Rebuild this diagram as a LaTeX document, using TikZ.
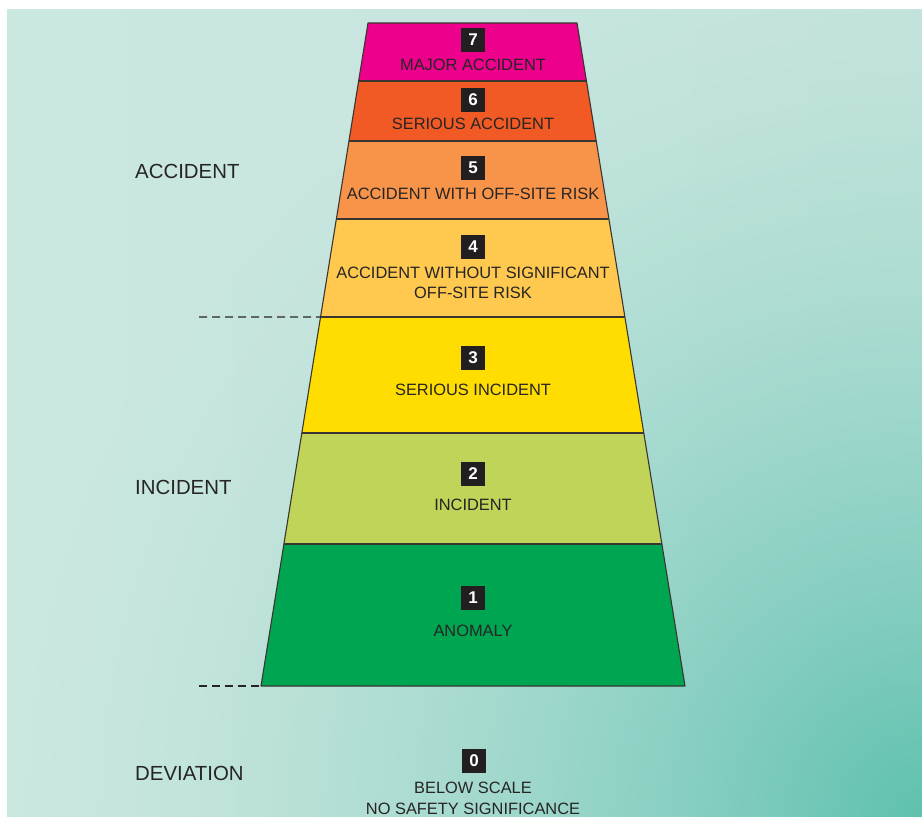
\documentclass[tikz,border=0pt]{standalone}
\usepackage{fontspec}
\setmainfont{Liberation Sans}
\usetikzlibrary{calc,fadings}
\definecolor{c7}{HTML}{EC008C}
\definecolor{c6}{HTML}{F15A24}
\definecolor{c5}{HTML}{F7944A}
\definecolor{c4}{HTML}{FFC84F}
\definecolor{c3}{HTML}{FFDD00}
\definecolor{c2}{HTML}{C0D459}
\definecolor{c1}{HTML}{00A551}
\definecolor{ink}{HTML}{262524}
\definecolor{boxc}{HTML}{231F20}
\definecolor{edgec}{HTML}{3A3530}
\definecolor{bgA}{HTML}{CAE7E0}
\definecolor{bgB}{HTML}{E4F2EF}
\definecolor{bgC}{HTML}{C6E5DE}
\definecolor{bgTeal}{HTML}{5CC0AD}
\pgfdeclareradialshading{tealfadeshade}{\pgfpoint{0bp}{0bp}}{%
  gray(0bp)=(0.97); gray(1.25bp)=(0.877); gray(2.5bp)=(0.788); gray(4bp)=(0.686);
  gray(6bp)=(0.557); gray(8bp)=(0.44); gray(10bp)=(0.333); gray(12bp)=(0.237);
  gray(14bp)=(0.154); gray(16bp)=(0.086); gray(18bp)=(0.033); gray(20.5bp)=(0);
  gray(25bp)=(0); gray(50bp)=(0)}
\pgfdeclarefading{tealfade}{\pgfuseshading{tealfadeshade}}
\tikzset{
  numbox/.style={fill=boxc, text=white, font=\bfseries\fontsize{17}{17}\selectfont,
    minimum width=24pt, minimum height=24pt, inner sep=0pt},
  lab/.style={text=ink, font=\fontsize{16.4}{20.5}\selectfont, align=center, inner sep=0pt},
  sidelab/.style={text=ink, font=\fontsize{20.4}{24}\selectfont, anchor=west, inner sep=0pt},
  bandedge/.style={draw=edgec, line width=1.1pt, line join=round},
  dashline/.style={draw=ink, line width=1.2pt, dash pattern=on 8pt off 5pt}
}
\begin{document}
\begin{tikzpicture}[x=1pt,y=-1pt]
\useasboundingbox (0,0) rectangle (922,817);
% background
\begin{scope}
  \clip (7,9) rectangle (922,817);
  \shade[left color=bgA, middle color=bgB, right color=bgC] (7,9) rectangle (922,817);
  \coordinate (glow) at (922,817);
  \fill[bgTeal, path fading=tealfade] (glow) circle (1100pt);
\end{scope}
% trapezoid corners and band boundaries
\coordinate (TL) at (368,23);
\coordinate (TR) at (577,23);
\coordinate (BL) at (261,686);
\coordinate (BR) at (685,686);
\coordinate (L1) at ($(TL)!0.0875!(BL)$); \coordinate (R1) at ($(TR)!0.0875!(BR)$);
\coordinate (L2) at ($(TL)!0.1780!(BL)$); \coordinate (R2) at ($(TR)!0.1780!(BR)$);
\coordinate (L3) at ($(TL)!0.2956!(BL)$); \coordinate (R3) at ($(TR)!0.2956!(BR)$);
\coordinate (L4) at ($(TL)!0.4434!(BL)$); \coordinate (R4) at ($(TR)!0.4434!(BR)$);
\coordinate (L5) at ($(TL)!0.6184!(BL)$); \coordinate (R5) at ($(TR)!0.6184!(BR)$);
\coordinate (L6) at ($(TL)!0.7858!(BL)$); \coordinate (R6) at ($(TR)!0.7858!(BR)$);
% bands
\fill[c7] (TL) -- (TR) -- (R1) -- (L1) -- cycle;
\fill[c6] (L1) -- (R1) -- (R2) -- (L2) -- cycle;
\fill[c5] (L2) -- (R2) -- (R3) -- (L3) -- cycle;
\fill[c4] (L3) -- (R3) -- (R4) -- (L4) -- cycle;
\fill[c3] (L4) -- (R4) -- (R5) -- (L5) -- cycle;
\fill[c2] (L5) -- (R5) -- (R6) -- (L6) -- cycle;
\fill[c1] (L6) -- (R6) -- (BR) -- (BL) -- cycle;
\path[bandedge] (L1) -- (R1) (L2) -- (R2) (L3) -- (R3) (L4) -- (R4) (L5) -- (R5) (L6) -- (R6);
\path[bandedge] (TL) -- (TR) -- (BR) -- (BL) -- cycle;
% dashed separators
\coordinate (D1) at (199,317);
\coordinate (D2) at (199,686);
\path[dashline] (D1) -- (L4);
\path[dashline] (D2) -- (BL);
% side labels
\node[sidelab] (acc) at (135,171) {ACCIDENT};
\node[sidelab] (inc) at (135,487) {INCIDENT};
\node[sidelab] (dev) at (135,773) {DEVIATION};
% level labels
\node[numbox] (n7) at (473,40) {7};
\node[lab] (t7) at (473,64.5) {MAJOR ACCIDENT};
\node[numbox] (n6) at (473,100) {6};
\node[lab] (t6) at (473,124) {SERIOUS ACCIDENT};
\node[numbox] (n5) at (473,168) {5};
\node[lab] (t5) at (473,194) {ACCIDENT WITH OFF-SITE RISK};
\node[numbox] (n4) at (473,247) {4};
\node[lab] (t4) at (473,283) {ACCIDENT WITHOUT SIGNIFICANT\\OFF-SITE RISK};
\node[numbox] (n3) at (473,358) {3};
\node[lab] (t3) at (473,389.5) {SERIOUS INCIDENT};
\node[numbox] (n2) at (473,474) {2};
\node[lab] (t2) at (473,505) {INCIDENT};
\node[numbox] (n1) at (473,598) {1};
\node[lab] (t1) at (473,630.5) {ANOMALY};
\node[numbox] (n0) at (474,761) {0};
\node[lab] (t0) at (473,798.5) {BELOW SCALE\\NO SAFETY SIGNIFICANCE};
\end{tikzpicture}
\end{document}
